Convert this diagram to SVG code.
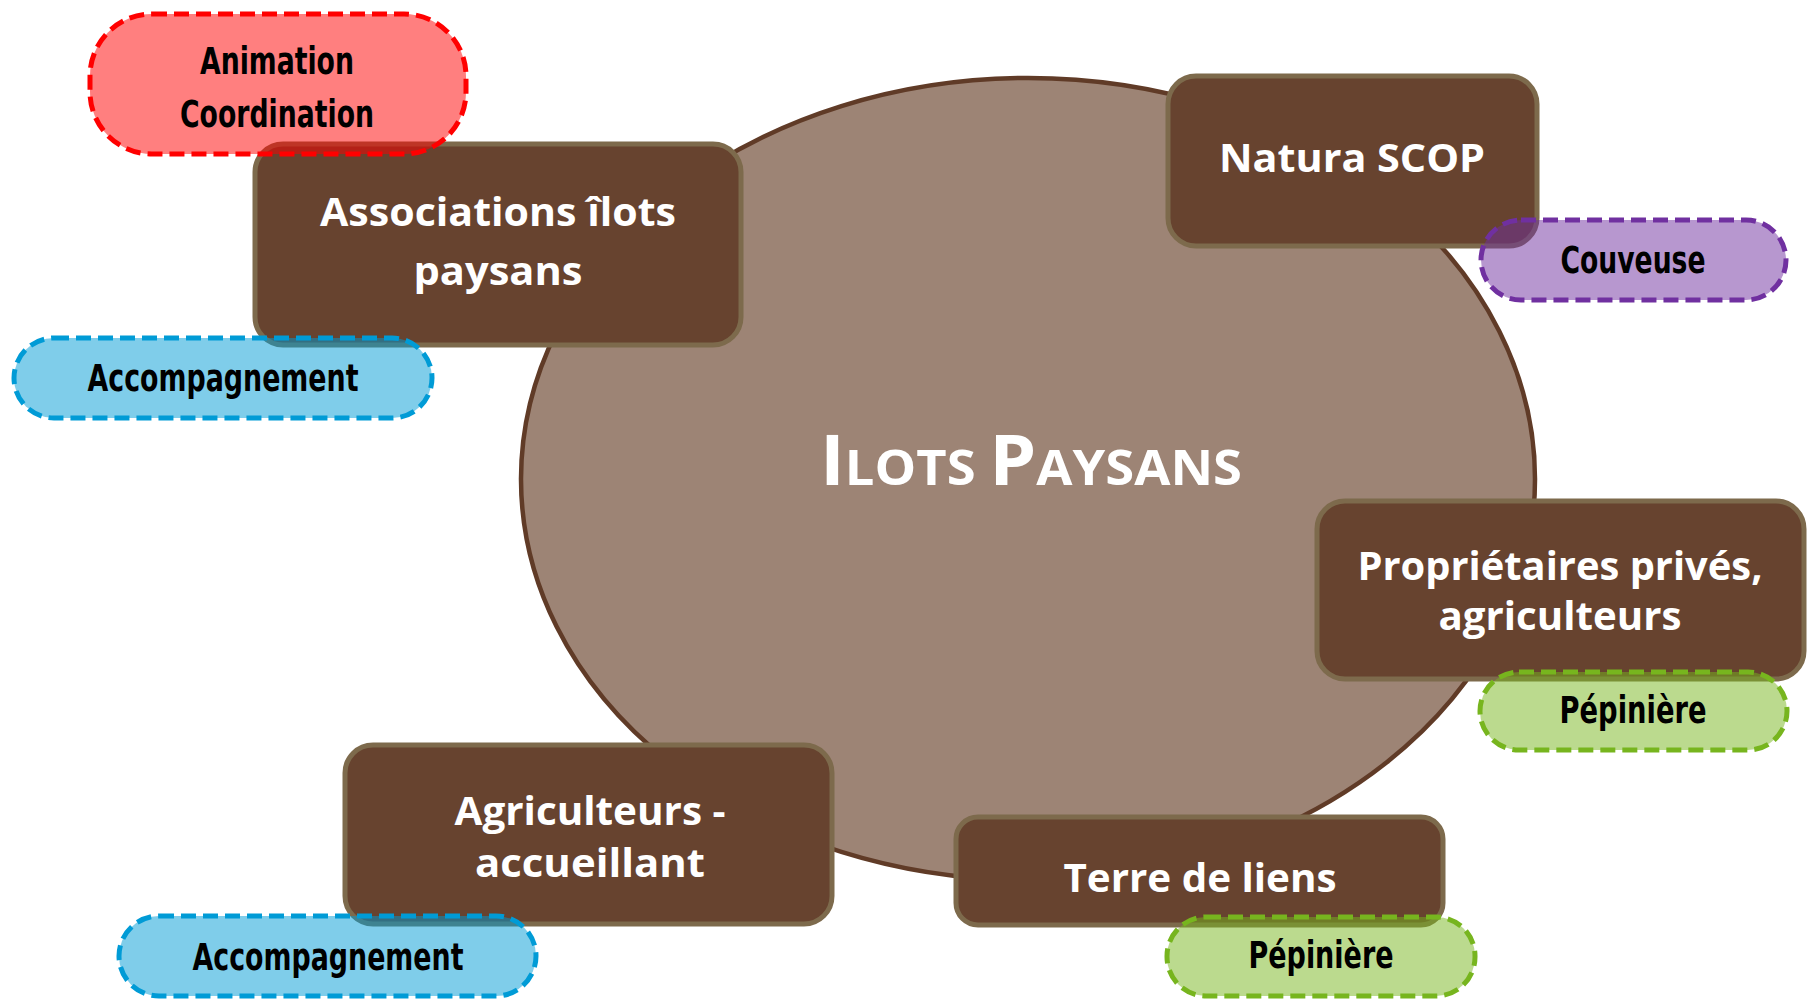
<svg xmlns="http://www.w3.org/2000/svg" width="1817" height="999" viewBox="0 0 1817 999">
<style>
.box{fill:#67432f;stroke:#7d6a4c;stroke-width:5}
.bt{fill:#ffffff;font-family:"Open Sans","DejaVu Sans",sans-serif;font-weight:bold;font-size:40px;text-anchor:middle}
.pill{stroke-width:5;stroke-dasharray:15 7}
.pt{fill:#000000;font-family:"Liberation Sans Narrow","DejaVu Sans Condensed","Liberation Sans",sans-serif;font-weight:bold;font-size:37px;text-anchor:middle}
.red{fill:rgba(255,0,0,0.5);stroke:#ff0000}
.blue{fill:rgba(0,155,214,0.5);stroke:#009bd6}
.purple{fill:rgba(112,48,160,0.5);stroke:#7030a0}
.green{fill:rgba(119,181,30,0.5);stroke:#77b51e}
</style>
<rect width="1817" height="999" fill="#ffffff"/>
<g id="ilots-paysans">
<ellipse cx="1028" cy="479" rx="507" ry="401" fill="#9d8475" stroke="#603b27" stroke-width="4.5"/>
<text x="1031" y="485" textLength="422" lengthAdjust="spacingAndGlyphs" fill="#ffffff" font-family="'Open Sans','DejaVu Sans',sans-serif" font-weight="bold" text-anchor="middle"><tspan font-size="70">I</tspan><tspan font-size="49">LOTS </tspan><tspan font-size="70">P</tspan><tspan font-size="49">AYSANS</tspan></text>
</g>
<g id="associations">
<rect class="box" x="255" y="144" width="486" height="201" rx="28"/>
<text class="bt" x="498" y="226" textLength="356" lengthAdjust="spacingAndGlyphs">Associations îlots</text>
<text class="bt" x="498" y="285" textLength="169" lengthAdjust="spacingAndGlyphs">paysans</text>
</g>
<g id="natura-scop">
<rect class="box" x="1168" y="76" width="369" height="170" rx="28"/>
<text class="bt" x="1352" y="172" textLength="266" lengthAdjust="spacingAndGlyphs">Natura SCOP</text>
</g>
<g id="proprietaires">
<rect class="box" x="1317" y="501" width="487" height="178" rx="28"/>
<text class="bt" x="1560" y="580" textLength="405" lengthAdjust="spacingAndGlyphs">Propriétaires privés,</text>
<text class="bt" x="1560" y="630" textLength="243" lengthAdjust="spacingAndGlyphs">agriculteurs</text>
</g>
<g id="agriculteurs">
<rect class="box" x="345" y="745" width="487" height="179" rx="28"/>
<text class="bt" x="590" y="825" textLength="271" lengthAdjust="spacingAndGlyphs">Agriculteurs -</text>
<text class="bt" x="590" y="877" textLength="230" lengthAdjust="spacingAndGlyphs">accueillant</text>
</g>
<g id="terre-de-liens">
<rect class="box" x="956" y="817" width="487" height="108" rx="22"/>
<text class="bt" x="1200" y="892" textLength="273" lengthAdjust="spacingAndGlyphs">Terre de liens</text>
</g>
<g id="animation-coordination">
<rect class="pill red" x="90" y="14" width="376" height="140" rx="62"/>
<text class="pt" x="277" y="74" textLength="154" lengthAdjust="spacingAndGlyphs">Animation</text>
<text class="pt" x="277" y="127" textLength="194" lengthAdjust="spacingAndGlyphs">Coordination</text>
</g>
<g id="accompagnement-1">
<rect class="pill blue" x="14" y="338" width="418" height="80" rx="40"/>
<text class="pt" x="223" y="391" textLength="271" lengthAdjust="spacingAndGlyphs">Accompagnement</text>
</g>
<g id="couveuse">
<rect class="pill purple" x="1481" y="220" width="305" height="80" rx="40"/>
<text class="pt" x="1633" y="273" textLength="145" lengthAdjust="spacingAndGlyphs">Couveuse</text>
</g>
<g id="pepiniere-1">
<rect class="pill green" x="1480" y="672" width="307" height="78" rx="39"/>
<text class="pt" x="1633" y="723" textLength="147" lengthAdjust="spacingAndGlyphs">Pépinière</text>
</g>
<g id="accompagnement-2">
<rect class="pill blue" x="119" y="916" width="417" height="80" rx="40"/>
<text class="pt" x="328" y="970" textLength="271" lengthAdjust="spacingAndGlyphs">Accompagnement</text>
</g>
<g id="pepiniere-2">
<rect class="pill green" x="1167" y="917" width="308" height="79" rx="39"/>
<text class="pt" x="1321" y="968" textLength="145" lengthAdjust="spacingAndGlyphs">Pépinière</text>
</g>
<g id="connectors"/>
</svg>
